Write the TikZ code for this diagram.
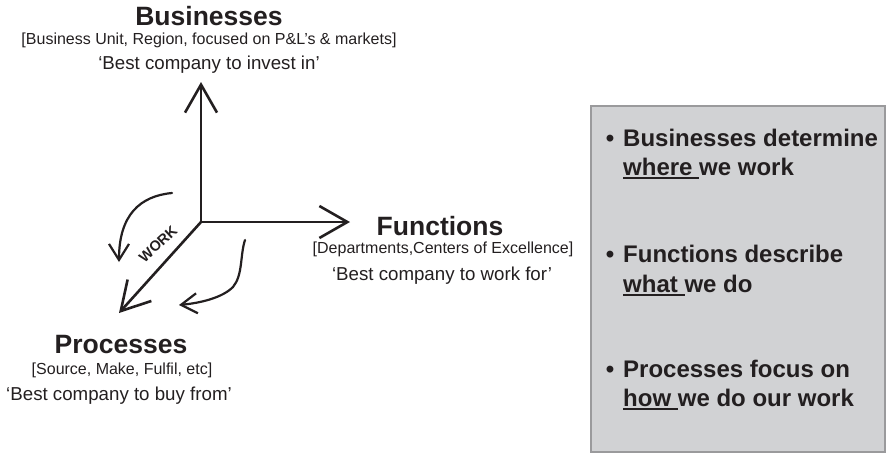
\documentclass[tikz,border=0pt]{standalone}
\usepackage{fontspec}
\setmainfont{Liberation Sans}
\usetikzlibrary{arrows.meta}
\definecolor{ink}{HTML}{231F20}
\definecolor{boxfill}{HTML}{D1D2D4}
\definecolor{boxline}{HTML}{9A9A9C}
\newcommand\myul[1]{\setbox0\hbox{#1}\rlap{\color{ink}\rule[-4pt]{\wd0}{2.2pt}}\box0}
\begin{document}
\begin{tikzpicture}[x=1pt,y=-1pt,
  axis/.style={draw=ink,line width=2.6pt,-{Straight Barb[length=28pt,width=32pt,line width=2.6pt]}},
  flow/.style={draw=ink,line width=2.2pt,line cap=round,-{Straight Barb[length=16pt,width=20pt,line width=2.2pt]}},
  title/.style={font=\fontsize{26.5}{27}\selectfont\bfseries,text=ink,inner sep=0pt},
  sub/.style={font=\fontsize{16}{17}\selectfont,text=ink,inner sep=0pt},
  quote/.style={font=\fontsize{18.7}{19}\selectfont,text=ink,inner sep=0pt},
  bul/.style={font=\fontsize{24}{30}\selectfont\bfseries,text=ink,inner sep=0pt,anchor=base west}]
\useasboundingbox (0,0) rectangle (888,453);
% axes
\coordinate (O) at (201,222);
\coordinate (U) at (201,82);
\coordinate (R) at (350,222);
\coordinate (D) at (119,313);
\draw[axis] (O) -- (U);
\draw[axis] (O) -- (R);
\draw[axis] (O) -- (D);
\node[font=\fontsize{14.5}{15}\selectfont\bfseries,text=ink,rotate=43,inner sep=0pt] (work) at (158,244) {WORK};
% curved arrows
\coordinate (c1s) at (172,193);
\coordinate (c1e) at (119,262);
\draw[flow] (c1s) .. controls (140,196) and (119,215) .. (c1e);
\coordinate (c2s) at (245,240);
\coordinate (c2m) at (233,287);
\coordinate (c2e) at (179,305);
\draw[flow] (c2s) .. controls (240,255) and (243,275) .. (c2m) .. controls (222,298) and (200,303) .. (c2e);
% labels
\node[title] (bus) at (209,16) {Businesses};
\node[sub] (bussub) at (209,40) {[Business Unit, Region, focused on P\&L’s \& markets]};
\node[quote] (busq) at (209,65) {‘Best company to invest in’};
\node[title] (fun) at (440,226) {Functions};
\node[sub] (funsub) at (443,249) {[Departments,Centers of Excellence]};
\node[quote] (funq) at (442,276) {‘Best company to work for’};
\node[title] (pro) at (121,345) {Processes};
\node[sub] (prosub) at (122,370) {[Source, Make, Fulfil, etc]};
\node[quote] (proq) at (119,396) {‘Best company to buy from’};
% box
\node[draw=boxline,fill=boxfill,line width=2.4pt,minimum width=294pt,minimum height=346pt,inner sep=0pt] (box) at (738,279) {};
\node[bul] (b1a) at (623,146) {\llap{•\hspace{9pt}}Businesses determine};
\node[bul] (b1b) at (623,175) {\myul{where }we work};
\node[bul] (b2a) at (623,262) {\llap{•\hspace{9pt}}Functions describe};
\node[bul] (b2b) at (623,292) {\myul{what }we do};
\node[bul] (b3a) at (623,377) {\llap{•\hspace{9pt}}Processes focus on};
\node[bul] (b3b) at (623,406) {\myul{how }we do our work};
\end{tikzpicture}
\end{document}
